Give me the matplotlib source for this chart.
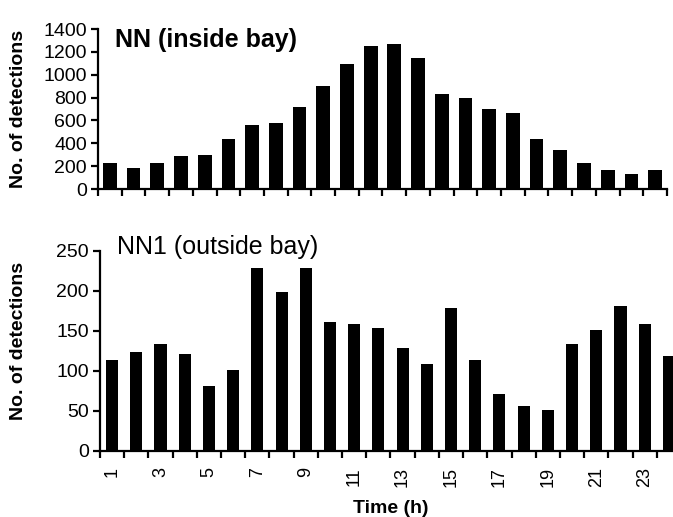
import matplotlib
matplotlib.use("Agg")
import matplotlib.pyplot as plt
import numpy as np

# Hourly detections at the two receivers
hours = list(range(1, 25))
nn_inside = [230, 180, 230, 285, 300, 440, 560, 575, 715, 905, 1095, 1250,
             1265, 1145, 835, 800, 700, 665, 440, 340, 230, 165, 130, 165]
nn1_outside = [113, 123, 133, 121, 81, 101, 228, 198, 228, 161, 158, 153,
               128, 108, 178, 113, 71, 56, 51, 133, 151, 181, 158, 118]
odd_labels = [str(h) for h in hours if h % 2 == 1]

plt.rcParams['font.family'] = ['Liberation Sans', 'DejaVu Sans']

fig = plt.figure(figsize=(6.73, 5.17), dpi=100)
ax1 = fig.add_axes([98 / 673, 1 - 189 / 517, 569 / 673, 160 / 517])
ax2 = fig.add_axes([100 / 673, 1 - 450.7 / 517, 581 / 673, 200 / 517])


def style(ax, ymax, ystep):
    for s in ("top", "right"):
        ax.spines[s].set_visible(False)
    for s in ("left", "bottom"):
        ax.spines[s].set_linewidth(1.6)
    ax.set_xlim(0.5, 24.5)
    ax.set_ylim(0, ymax)
    ax.set_yticks(np.arange(0, ymax + 1, ystep))
    ax.set_xticks(np.arange(0.5, 25, 1))
    ax.set_xticklabels([])
    ax.tick_params(axis="both", which="major", direction="out", length=5,
                   width=1.6, labelsize=14, pad=3)
    ax.set_ylabel("No. of detections", fontsize=14, fontweight="bold")


ax1.bar(hours, nn_inside, width=0.58, color="black")
style(ax1, 1400, 200)
ax1.yaxis.set_label_coords(-0.125, 0.5)
ax1.text(115 / 673, 1 - 40 / 517, "NN (inside bay)", transform=fig.transFigure,
         fontsize=18, fontweight="bold", va="center", ha="left")

ax2.bar(hours, nn1_outside, width=0.5, color="black")
style(ax2, 250, 50)
ax2.yaxis.set_label_coords(-0.125, 0.55)
ax2.set_xticks(hours[::2], minor=True)
ax2.set_xticklabels(odd_labels, minor=True, rotation=90, fontsize=13)
ax2.tick_params(axis="x", which="minor", length=0, pad=12)
ax2.set_xlabel("Time (h)", fontsize=14, fontweight="bold", labelpad=9)
ax2.text(117 / 673, 1 - 247 / 517, "NN1 (outside bay)", transform=fig.transFigure,
         fontsize=18, va="center", ha="left")

fig.savefig("out.png", dpi=100)
